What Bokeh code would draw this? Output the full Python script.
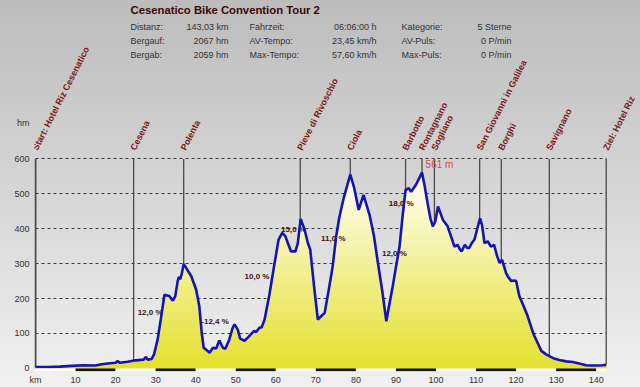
from bokeh.plotting import figure
from bokeh.models import (ColumnDataSource, FixedTicker, LabelSet, Label,
                          GlobalInlineStyleSheet, Range1d)
from bokeh.core.properties import value
from bokeh.embed import file_html
from bokeh.resources import INLINE
import numpy as np

# ---------------- data ----------------
km = [0.0, 3.0, 6.0, 9.0, 12.0, 15.0, 16.5, 18.0, 20.0, 20.5, 21.0, 23.0, 25.0,
      27.0, 27.6, 28.0, 29.0, 29.6, 30.5, 31.4, 32.2, 33.4, 34.3, 34.9, 35.5,
      35.8, 36.1, 36.5, 37.0, 37.6, 38.9, 40.1, 40.9, 41.5, 42.0, 43.0, 43.5,
      44.3, 45.1, 45.9, 46.4, 46.8, 47.4, 48.4, 49.2, 49.7, 50.5, 51.1, 52.2,
      53.0, 54.0, 54.5, 55.1, 55.9, 56.5, 57.2, 58.4, 59.7, 60.7, 61.6, 62.4,
      63.0, 63.8, 64.9, 65.5, 66.2, 67.2, 68.0, 68.6, 69.6, 70.5, 72.2, 73.3,
      74.2, 75.1, 75.9, 77.0, 78.6, 79.5, 80.7, 81.9, 83.4, 84.5, 85.5, 86.6,
      87.6, 88.3, 89.2, 90.0, 90.9, 91.6, 92.4, 93.2, 93.8, 95.0, 95.6, 96.5,
      97.2, 97.9, 98.6, 99.2, 99.8, 100.5, 101.7, 102.9, 104.6, 105.4, 106.0,
      106.4, 107.2, 107.8, 108.3, 109.0, 109.6, 110.3, 111.0, 111.5, 112.1,
      112.9, 113.7, 114.5, 115.3, 115.9, 116.5, 117.5, 118.0, 118.8, 119.5,
      120.0, 120.8, 122.0, 122.9, 124.0, 124.6, 125.5, 126.3, 127.5, 128.3,
      129.5, 130.8, 132.5, 134.2, 136.0, 137.5, 139.0, 140.0, 141.5, 142.5]
hm = [4, 4, 5, 7, 9, 8, 12, 14, 16, 21, 16, 19, 23,
      25, 33, 25, 27, 40, 83, 149, 211, 207, 194, 207, 250,
      262, 255, 270, 298, 288, 264, 226, 178, 102, 59, 50, 45,
      59, 57, 80, 68, 59, 56, 83, 115, 126, 111, 85, 79,
      88, 100, 107, 104, 116, 118, 140, 211, 302, 369, 388, 378,
      359, 335, 335, 359, 428, 397, 359, 340, 230, 140, 159, 230,
      292, 380, 435, 490, 555, 520, 454, 497, 440, 380, 302, 220,
      135, 180, 235, 290, 349, 430, 511, 516, 506, 526, 540, 561,
      520, 473, 430, 407, 420, 464, 426, 407, 349, 354, 340,
      335, 354, 345, 345, 360, 369, 400, 430, 410, 359,
      364, 349, 354, 320, 302, 311, 273, 262, 250, 252,
      250, 207, 175, 149, 110, 92, 70, 50, 40, 35,
      28, 24, 20, 18, 13, 9, 8, 8, 9, 10]

marker_names = ["Start: Hotel Riz Cesenatico", "Cesena", "Polenta",
                "Pieve di Rivoschio", "Ciola", "Barbotto", "Rontagnano",
                "Sogliano", "San Giovanni in Galilea", "Borghi", "Savignano",
                "Ziel: Hotel Riz"]
marker_km = [0.0, 24.5, 37.0, 66.1, 78.6, 92.4, 96.5, 99.6, 110.9, 116.3,
             128.3, 142.5]

grade_text = ["12,0 %", "-12,4 %", "10,0 %", "15,0 %", "11,0 %", "18,0 %",
              "12,0 %"]
grade_km = [25.5, 41.4, 52.2, 61.3, 71.3, 88.2, 86.5]
grade_hm = [161, 135, 262, 399, 373, 473, 329]

max_label = "561 m"
max_km = 96.5
max_hm = 561

x_ticks = [0, 10, 20, 30, 40, 50, 60, 70, 80, 90, 100, 110, 120, 130, 140]
x_end = 142.5
y_ticks = [0, 100, 200, 300, 400, 500, 600]
unit_tick = 703   # height of the "hm" unit label on the y axis

title = "Cesenatico Bike Convention Tour 2"
info_labels_1 = ["Distanz:", "Bergauf:", "Bergab:"]
info_values_1 = ["143,03 km", "2067 hm", "2059 hm"]
info_labels_2 = ["Fahrzeit:", "AV-Tempo:", "Max-Tempo:"]
info_values_2 = ["06:06:00 h", "23,45 km/h", "57,60 km/h"]
info_labels_3 = ["Kategorie:", "AV-Puls:", "Max-Puls:"]
info_values_3 = ["5 Sterne", "0 P/min", "0 P/min"]

# ---------------- layout ----------------
W, H = 640, 387
BL, BR, BT, BB = 34, 0, 0, 15
FW = W - BL - BR
FH = H - BT - BB
XPX = 4.005
X0 = -0.25
X1 = X0 + FW / XPX
YPX = 0.35
Y0 = -9.0
Y1 = Y0 + FH / YPX


def dx(px):
    return X0 + (px - BL) / XPX


def dy(py):
    return Y0 + (BT + FH - py) / YPX


FONT = "Liberation Sans"

p = figure(width=W, height=H, x_range=Range1d(X0, X1), y_range=Range1d(Y0, Y1),
           output_backend="svg", toolbar_location=None,
           min_border_left=BL, min_border_right=BR, min_border_top=BT,
           min_border_bottom=BB, background_fill_alpha=0, border_fill_alpha=0,
           outline_line_color=None)
p.stylesheets = [GlobalInlineStyleSheet(
    css="html{min-height:100%;background:linear-gradient(180deg,#bcbcbc 0%,#f1f1f1 100%);}")]

# grid
p.xgrid.visible = False
grid = p.ygrid[0]
grid.ticker = FixedTicker(ticks=y_ticks[1:])
grid.grid_line_dash = "3 3"
grid.grid_line_color = "#3a3a3a"
grid.grid_line_width = 1
if "cross_bounds" in grid.properties():
    grid.cross_bounds = (0, x_end)
else:
    grid.visible = False
    p.segment(x0=[0] * 6, y0=y_ticks[1:], x1=[x_end] * 6, y1=y_ticks[1:],
              line_color="#3a3a3a", line_dash="3 3", line_width=1)

# y axis (unit label "hm" as an extra tick above 600)
p.yaxis.ticker = FixedTicker(ticks=y_ticks + [unit_tick])
p.yaxis.major_label_overrides = {unit_tick: "hm"}
p.yaxis.bounds = (0, unit_tick)
p.yaxis.axis_line_color = None
p.yaxis.major_tick_line_color = None
p.yaxis.major_tick_out = 0
p.yaxis.major_tick_in = 0
p.yaxis.minor_tick_line_color = None
p.yaxis.major_label_standoff = 5
p.yaxis.major_label_text_font = FONT
p.yaxis.major_label_text_font_size = "9px"
p.yaxis.major_label_text_color = "#333333"

# x axis
p.xaxis.ticker = FixedTicker(ticks=x_ticks)
p.xaxis.major_label_overrides = {0: "km"}
p.xaxis.axis_line_color = None
p.xaxis.major_tick_line_color = None
p.xaxis.minor_tick_line_color = None
p.xaxis.major_tick_out = 0
p.xaxis.major_tick_in = 0
p.xaxis.major_label_standoff = 3
p.xaxis.major_label_text_font = FONT
p.xaxis.major_label_text_font_size = "9px"
p.xaxis.major_label_text_color = "#333333"

km_a = np.array(km, dtype=float)
hm_a = np.array(hm, dtype=float)

# axis line
p.segment(x0=[0], y0=[0], x1=[0], y1=[y_ticks[-1]], line_color="#6e6e6e",
          line_width=2)

# marker lines (behind the fill)
p.segment(x0=marker_km, y0=[0] * len(marker_km), x1=marker_km,
          y1=[600] * len(marker_km), line_color="#4a4a4a", line_width=1.3)

# gradient fill under the profile
top_c = np.array([255, 255, 246])
bot_c = np.array([229, 224, 46])
levels = list(range(580, 0, -20))
for lv in levels:
    t = min(1.0, (lv - 10) / 560.0)
    c = bot_c + (top_c - bot_c) * t
    col = "#%02x%02x%02x" % tuple(int(round(v)) for v in c)
    p.varea(x=km_a, y1=np.zeros_like(hm_a), y2=np.minimum(hm_a, lv),
            fill_color=col, fill_alpha=1.0)

# gradient percentage labels
p.text(x=grade_km, y=grade_hm, text=grade_text, text_font=value(FONT),
       text_font_size="8px", text_font_style="bold", text_color="#3a1212",
       text_align="left", text_baseline="middle")

# profile line
p.line(km_a, hm_a, line_color="#1414b2", line_width=2.6)

# km strip
seg_left = x_ticks
seg_right = x_ticks[1:] + [x_end]
seg_col = ["#ffffff" if i % 2 == 0 else "#111111" for i in range(len(seg_left))]
p.quad(left=seg_left, right=seg_right, bottom=[-8.0] * len(seg_left),
       top=[-0.5] * len(seg_left), fill_color=seg_col, line_color=None)

# max altitude label
p.text(x=[max_km + 0.9], y=[max_hm + 24], text=[max_label], text_font=value(FONT),
       text_font_size="10px", text_color="#e04848", text_align="left",
       text_baseline="middle")

# marker names
msrc = ColumnDataSource(dict(x=marker_km, y=[dy(151)] * len(marker_km),
                             name=marker_names))
p.add_layout(LabelSet(x="x", y="y", text="name", source=msrc, angle=1.10,
                      x_offset=2, text_align="left", text_baseline="alphabetic",
                      text_font=value(FONT), text_font_size="9px",
                      text_font_style="bold", text_color="#7a1a1a"))

# header
p.add_layout(Label(x=dx(130), y=dy(10), text=title, text_align="left",
                   text_baseline="middle", text_font=FONT,
                   text_font_size="11.3px", text_font_style="bold",
                   text_color="#3a0808"))
row_y = [26.5, 40.5, 54.5]
cols = [(info_labels_1, 130, "left"), (info_values_1, 228, "right"),
        (info_labels_2, 249, "left"), (info_values_2, 376, "right"),
        (info_labels_3, 401, "left"), (info_values_3, 511, "right")]
for texts, xpx, align in cols:
    for t, ypx in zip(texts, row_y):
        p.add_layout(Label(x=dx(xpx), y=dy(ypx), text=t, text_align=align,
                           text_baseline="middle", text_font=FONT,
                           text_font_size="9px", text_color="#333333"))

open("out.html", "w").write(file_html(p, INLINE))
